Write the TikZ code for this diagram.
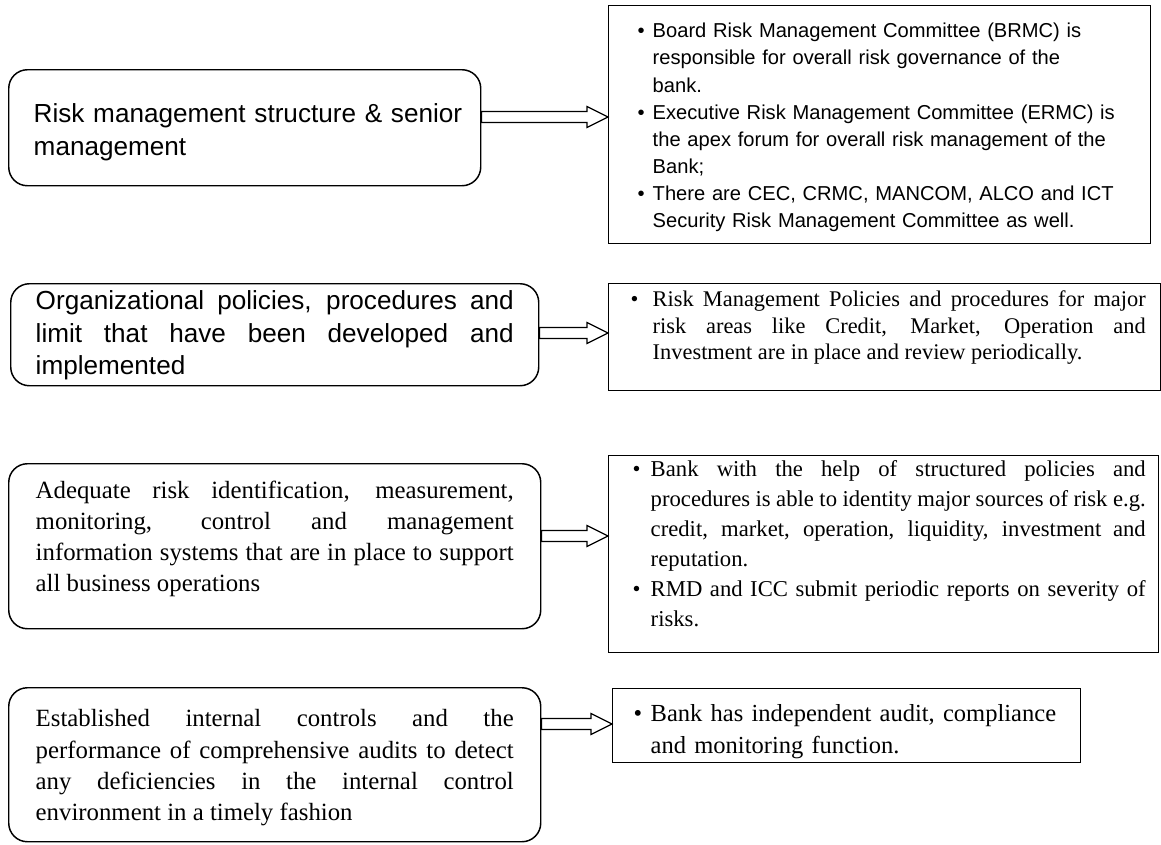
\documentclass[tikz,border=0pt]{standalone}
\usepackage{fontspec}
\setmainfont{Liberation Serif}
\setsansfont{Liberation Sans}
\usetikzlibrary{calc}

\tolerance=10000
\hyphenpenalty=10000
\hbadness=10000
\hfuzz=30pt

% bullet item: #1 = bullet offset, #2 = text indent
\newcommand{\bitem}[2]{\noindent\hangindent=#2\hangafter=1\hspace*{#1}\makebox[\dimexpr#2-#1\relax][l]{\textbullet}\ignorespaces}

\begin{document}
\begin{tikzpicture}[%
    x=0.75pt,
    y=-0.75pt,
    lbox/.style={draw, line width=1.1pt, rounded corners=14pt, anchor=north west, inner ysep=0pt, align=justify},
    rbox/.style={draw, line width=1.1pt, anchor=north west, inner ysep=0pt, align=justify},
    hollow/.style={line width=0.9pt, to path={-- ++(0,-5.5) -- ($(\tikztotarget)+(-21,-5.5)$) -- ++(0,-5) -- (\tikztotarget) -- ++(-21,10.5) -- ++(0,-5) -- ($(\tikztostart)+(0,5.5)$) -- (\tikztostart)}}
  ]
  \useasboundingbox (0,0) rectangle (1161,844);

  \node[lbox, font=\sffamily\fontsize{19.6}{24.75}\selectfont, align=left, text width=316.5pt, text height=39.75pt, text depth=47.25pt, inner xsep=18.75pt] (l1) at (8,69)
    {\mbox{Risk management structure \& senior}\newline management};
  \node[rbox, font=\sffamily\fontsize{15.1}{20.36}\selectfont, align=left, text width=372pt, text height=24pt, text depth=154.5pt, inner xsep=17.25pt] (r1) at (608,5)
    {\bitem{4.5pt}{15.75pt}Board Risk Management Committee (BRMC) is\newline responsible for overall risk governance of the\newline bank.\par
     \bitem{4.5pt}{15.75pt}Executive Risk Management Committee (ERMC) is\newline the apex forum for overall risk management of the\newline Bank;\par
     \bitem{4.5pt}{15.75pt}There are CEC, CRMC, MANCOM, ALCO and ICT\newline Security Risk Management Committee as well.\par};

  \node[lbox, font=\sffamily\fontsize{19.6}{24.4}\selectfont, text width=358.5pt, text height=19.5pt, text depth=57pt, inner xsep=18.75pt] (l2) at (10,283)
    {Organizational policies, procedures and\linebreak limit that have been developed and\linebreak implemented};
  \node[rbox, font=\fontsize{16.8}{19.9}\selectfont, text width=391.5pt, text height=17.25pt, text depth=63pt, inner xsep=11.25pt] (r2) at (608,283)
    {\bitem{5.25pt}{21.75pt}Risk Management Policies and procedures for major\linebreak risk areas like Credit, Market, Operation and\linebreak Investment are in place and review periodically.\par};

  \node[lbox, font=\fontsize{18.6}{23.25}\selectfont, text width=358.5pt, text height=26.25pt, text depth=97.5pt, inner xsep=20.25pt] (l3) at (8,463)
    {Adequate risk identification, measurement,\linebreak monitoring, control and management\linebreak information systems that are in place to support\linebreak all business operations};
  \node[rbox, font=\fontsize{17}{22.5}\selectfont, text width=393pt, text height=15.75pt, text depth=132pt, inner xsep=9.75pt] (r3) at (608,455)
    {\bitem{8.25pt}{21.75pt}Bank with the help of structured policies and\linebreak procedures is able to identity major sources of risk e.g.\linebreak credit, market, operation, liquidity, investment and\linebreak reputation.\par
     \bitem{8.25pt}{21.75pt}RMD and ICC submit periodic reports on severity of\linebreak risks.\par};

  \node[lbox, font=\fontsize{18.6}{23.5}\selectfont, text width=358.5pt, text height=29.25pt, text depth=86.25pt, inner xsep=20.25pt] (l4) at (8,687)
    {Established internal controls and the\linebreak performance of comprehensive audits to detect\linebreak any deficiencies in the internal control\linebreak environment in a timely fashion};
  \node[rbox, font=\fontsize{18.4}{24}\selectfont, align=left, text width=331.5pt, text height=24.75pt, text depth=30.75pt, inner xsep=9.75pt] (r4) at (612,688)
    {\bitem{6pt}{18.75pt}Bank has independent audit, compliance\newline and monitoring function.\par};

  \coordinate (y1) at (0,117);
  \coordinate (y2) at (0,333);
  \coordinate (y3) at (0,536);
  \coordinate (y4) at (0,724);

  \draw[hollow] (l1.east |- y1) to (r1.west |- y1);
  \draw[hollow] (l2.east |- y2) to (r2.west |- y2);
  \draw[hollow] (l3.east |- y3) to (r3.west |- y3);
  \draw[hollow] (l4.east |- y4) to (r4.west |- y4);

\end{tikzpicture}
\end{document}
